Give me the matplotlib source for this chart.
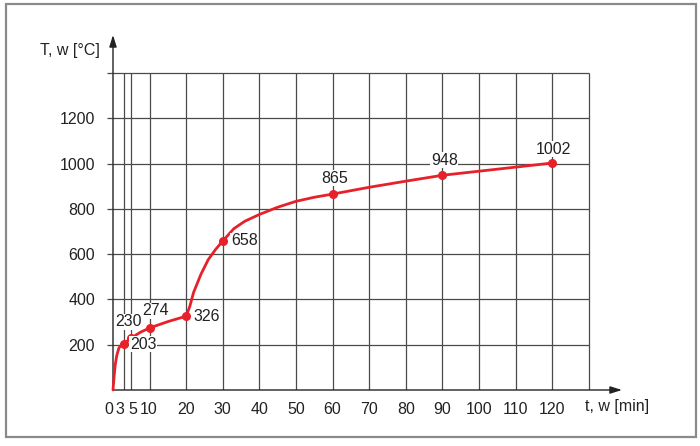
import matplotlib
matplotlib.use("Agg")
import matplotlib.pyplot as plt
from matplotlib.patches import Rectangle
from matplotlib.transforms import ScaledTranslation

plt.rcParams['font.family'] = ['Liberation Sans', 'DejaVu Sans']

# Data
t_points = [3, 5, 10, 20, 30, 60, 90, 120]
T_points = [203, 230, 274, 326, 658, 865, 948, 1002]
point_labels = ["203", "230", "274", "326", "658", "865", "948", "1002"]

# Curve
t_curve = [0, 0.3, 0.6, 1.0, 1.6, 2.3, 3, 4, 5, 7.5, 10, 15, 20, 21, 22, 24, 26, 28, 30,
           33, 36, 40, 45, 50, 55, 60, 70, 80, 90, 105, 120]
T_curve = [0, 60, 110, 150, 185, 200, 203, 218, 230, 255, 274, 302, 326, 370, 430, 510, 575,
           620, 658, 712, 745, 775, 807, 833, 851, 865, 895, 922, 948, 975, 1002]

x_ticks = [0, 3, 5, 10, 20, 30, 40, 50, 60, 70, 80, 90, 100, 110, 120]
x_grid = [3, 5, 10, 20, 30, 40, 50, 60, 70, 80, 90, 100, 110, 120, 130]
y_ticks = [200, 400, 600, 800, 1000, 1200, 1400]
y_tick_labels = ["200", "400", "600", "800", "1000", "1200", ""]

W, H = 700, 446
fig = plt.figure(figsize=(7, 4.46), dpi=100)

# outer frame
fig.patches.append(Rectangle((6 / W, 1 - 437 / H), 690 / W, 433 / H, transform=fig.transFigure,
                             fill=False, edgecolor='#8a8a8a', linewidth=1.6))

x0, x1 = 113, 622
y0, y1 = 390, 35
ax = fig.add_axes([x0 / W, 1 - y0 / H, (x1 - x0) / W, (y0 - y1) / H])
px_per_min = 3.66
px_per_deg = 45.3 / 200
xmax = (x1 - x0) / px_per_min
ymax = (y0 - y1) / px_per_deg
ax.set_xlim(0, xmax)
ax.set_ylim(0, ymax)
ax.set_autoscale_on(False)
for s in ax.spines.values():
    s.set_visible(False)

grid_color = '#4a4a4a'
ax.vlines(x_grid, 0, 1400, colors=grid_color, linewidth=0.9, zorder=1)
ax.hlines(y_ticks, 0, 130, colors=grid_color, linewidth=0.9, zorder=1)

# axes with arrows
ax.annotate('', xy=(xmax, 0), xytext=(0, 0), annotation_clip=False,
            arrowprops=dict(arrowstyle='-|>,head_length=0.7,head_width=0.22', color='#222222',
                            lw=1.0, shrinkA=0, shrinkB=0), zorder=2)
ax.annotate('', xy=(0, ymax), xytext=(0, 0), annotation_clip=False,
            arrowprops=dict(arrowstyle='-|>,head_length=0.7,head_width=0.22', color='#222222',
                            lw=1.0, shrinkA=0, shrinkB=0), zorder=2)

fs = 11.5
ax.set_xticks(x_ticks)
ax.set_xticklabels([str(v) for v in x_ticks], fontsize=fs, color='#222222')
ax.tick_params(axis='x', length=0, pad=9)
# nudge the crowded first labels apart (pixels)
nudges = {0: -4, 3: -4, 5: 2, 10: -1}
for v, lab in zip(x_ticks, ax.get_xticklabels()):
    if v in nudges:
        lab.set_transform(lab.get_transform() + ScaledTranslation(nudges[v] / 100, 0, fig.dpi_scale_trans))
ax.set_yticks(y_ticks)
ax.set_yticklabels(y_tick_labels, fontsize=fs, color='#222222')
ax.tick_params(axis='y', length=4, width=0.9, color=grid_color, pad=9)

red = '#e8202a'
ax.plot(t_curve, T_curve, color=red, linewidth=2.0, zorder=3, solid_capstyle='round',
        solid_joinstyle='round', clip_on=False)
ax.plot(t_points, T_points, 'o', color=red, markersize=5.5, zorder=4)

# label offsets in pixels (dx, dy) and alignment
label_pos = {
    "203": (6, 0, 'left'),
    "230": (-3, 16, 'center'),
    "274": (6, 17, 'center'),
    "326": (7, 0, 'left'),
    "658": (8, 0, 'left'),
    "865": (2, 16, 'center'),
    "948": (2, 15, 'center'),
    "1002": (1, 14, 'center'),
}
for t, T, lab in zip(t_points, T_points, point_labels):
    dx, dy, ha = label_pos[lab]
    ax.annotate(lab, (t, T), xytext=(dx * 0.72, dy * 0.72), textcoords='offset points', ha=ha,
                va='center', fontsize=fs, color='#222222', zorder=5,
                bbox=dict(facecolor='white', edgecolor='none', pad=0.5))

fig.text(100 / W, 1 - 50 / H, "T, w [°C]", ha='right', va='center', fontsize=fs, color='#222222')
fig.text(585 / W, 1 - 406 / H, "t, w [min]", ha='left', va='center', fontsize=fs, color='#222222')

fig.savefig("out.png", dpi=100)
